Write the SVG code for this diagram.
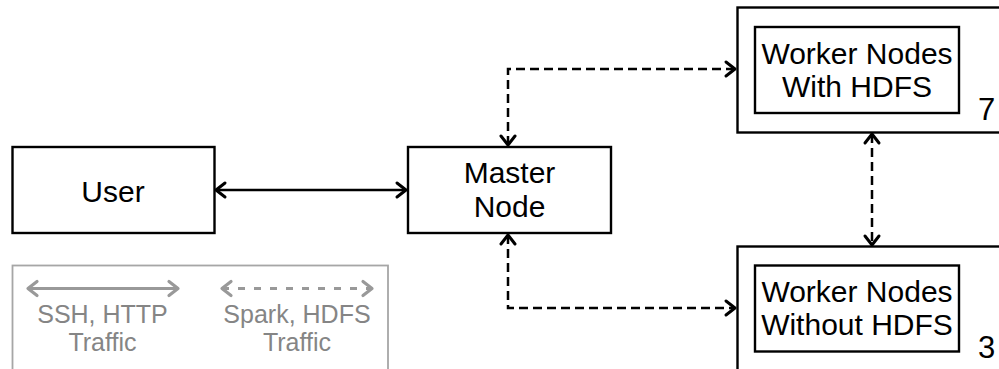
<svg xmlns="http://www.w3.org/2000/svg" width="999" height="369" viewBox="0 0 999 369">
  <style>
    .box { fill: #ffffff; stroke: #000000; stroke-width: 2.4; }
    .label { font-family: "Liberation Sans", Arial, sans-serif; font-size: 30px; fill: #000000; text-anchor: middle; }
    .count { font-family: "Liberation Sans", Arial, sans-serif; font-size: 31px; fill: #000000; }
    .link { fill: none; stroke: #000000; stroke-width: 2.5; }
    .dashed { stroke-dasharray: 9 5; }
    .legend-box { fill: none; stroke: #a6a6a6; stroke-width: 1.8; }
    .legend-link { fill: none; stroke: #999999; stroke-width: 3; }
    .legend-text { font-family: "Liberation Sans", Arial, sans-serif; font-size: 25px; fill: #858585; text-anchor: middle; }
  </style>
  <defs>
    <marker id="chev" markerUnits="userSpaceOnUse" markerWidth="14" markerHeight="20" refX="11" refY="10" orient="auto-start-reverse" overflow="visible">
      <path d="M2,3 L11,10 L2,17" fill="none" stroke="#000000" stroke-width="3" stroke-linecap="round" stroke-linejoin="round"/>
    </marker>
    <marker id="chev-grey" markerUnits="userSpaceOnUse" markerWidth="14" markerHeight="20" refX="11" refY="10" orient="auto-start-reverse" overflow="visible">
      <path d="M2,3 L11,10 L2,17" fill="none" stroke="#999999" stroke-width="3.2" stroke-linecap="round" stroke-linejoin="round"/>
    </marker>
  </defs>

  <rect width="999" height="369" fill="#ffffff"/>

  <!-- connectors -->
  <g id="connectors">
    <path class="link" d="M216,190 H406" marker-start="url(#chev)" marker-end="url(#chev)"/>
    <path class="link dashed" d="M508,145 V69 H735" marker-start="url(#chev)" marker-end="url(#chev)"/>
    <path class="link dashed" d="M508,235 V308 H735" marker-start="url(#chev)" marker-end="url(#chev)"/>
    <path class="link dashed" d="M872,134 V245" marker-start="url(#chev)" marker-end="url(#chev)"/>
  </g>

  <g id="user">
    <rect class="box" x="12.5" y="147" width="202" height="86"/>
    <text class="label" x="113" y="202">User</text>
  </g>

  <g id="master">
    <rect class="box" x="408" y="147" width="203" height="86"/>
    <text class="label" x="509.5" y="183">Master</text>
    <text class="label" x="509.5" y="216.5">Node</text>
  </g>

  <g id="workers-hdfs">
    <rect class="box" x="737.5" y="7.5" width="280" height="125"/>
    <rect class="box" x="755" y="27" width="204" height="86"/>
    <text class="label" x="857" y="63.5">Worker Nodes</text>
    <text class="label" x="857" y="97">With HDFS</text>
    <text class="count" x="978" y="120">7</text>
  </g>

  <g id="workers-no-hdfs">
    <rect class="box" x="737.5" y="246.5" width="280" height="140"/>
    <rect class="box" x="755" y="265.5" width="204" height="86"/>
    <text class="label" x="857" y="301.5">Worker Nodes</text>
    <text class="label" x="857" y="335">Without HDFS</text>
    <text class="count" x="978" y="358">3</text>
  </g>

  <g id="legend">
    <rect class="legend-box" x="12.5" y="265.5" width="375.5" height="120"/>
    <path class="legend-link" d="M28,288.5 H178" marker-start="url(#chev-grey)" marker-end="url(#chev-grey)"/>
    <path class="legend-link" d="M222,288.5 H372" stroke-dasharray="7 9" marker-start="url(#chev-grey)" marker-end="url(#chev-grey)"/>
    <text class="legend-text" x="102.5" y="323">SSH, HTTP</text>
    <text class="legend-text" x="102.5" y="351">Traffic</text>
    <text class="legend-text" x="297" y="323">Spark, HDFS</text>
    <text class="legend-text" x="297" y="351">Traffic</text>
  </g>
</svg>
